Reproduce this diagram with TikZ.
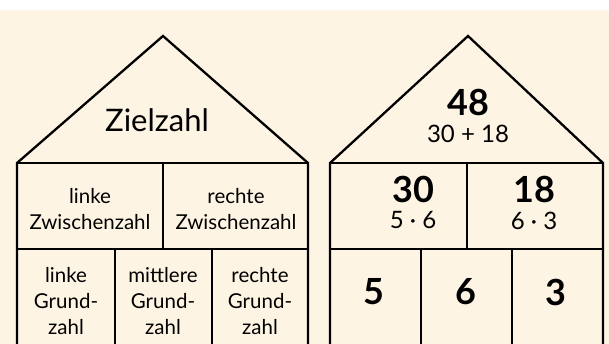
\documentclass[tikz,border=0pt]{standalone}
\usepackage{fontspec}
\setmainfont{Lato}
\usetikzlibrary{positioning}
\definecolor{paper}{HTML}{FEF4E4}

\begin{document}
\begin{tikzpicture}[x=1pt, y=-1pt,
    wall/.style={line width=2.3pt, line join=miter},
    lbl/.style={align=center, inner sep=0pt, font=\fontsize{20.5}{26}\selectfont},
    rooflbl/.style={inner sep=0pt, font=\fontsize{31}{34}\selectfont},
    bignum/.style={inner sep=0pt, font=\fontsize{36}{40}\selectfont\bfseries},
    subnum/.style={inner sep=0pt, font=\fontsize{24}{28}\selectfont}
]
\useasboundingbox (0,0) rectangle (609,344);
\fill[paper] (0,10) rectangle (609,344);

% left house: the names
\draw[wall] (17,344) -- (17,163) -- (163,36) -- (308,163) -- (308,344);
\draw[wall] (17,163) -- (308,163);
\draw[wall] (17,249) -- (308,249);
\draw[wall] (163,163) -- (163,249);
\draw[wall] (115,249) -- (115,344);
\draw[wall] (212,249) -- (212,344);
\node[rooflbl] (goal) at (157,120) {Zielzahl};
\node[lbl] (midleft) at (90,209) {linke\\Zwischenzahl};
\node[lbl] (midright) at (236,209) {rechte\\Zwischenzahl};
\node[lbl] (baseleft) at (66,301) {linke\\Grund-\\zahl};
\node[lbl] (basemid) at (163,301) {mittlere\\Grund-\\zahl};
\node[lbl] (baseright) at (260,301) {rechte\\Grund-\\zahl};

% right house: the example
\draw[wall] (330,344) -- (330,163) -- (468,36) -- (603,163) -- (603,344);
\draw[wall] (330,163) -- (603,163);
\draw[wall] (330,249) -- (603,249);
\draw[wall] (467,163) -- (467,249);
\draw[wall] (421,249) -- (421,344);
\draw[wall] (512,249) -- (512,344);
\node[bignum] (top) at (468,102) {48};
\node[subnum, below=9pt of top] (topsum) {30 + 18};
\node[bignum] (left) at (413,189) {30};
\node[subnum, below=9pt of left] (leftprod) {5 · 6};
\node[bignum] (right) at (534,189) {18};
\node[subnum, below=9pt of right] (rightprod) {6 · 3};
\node[bignum] (a) at (374,292) {5};
\node[bignum] (b) at (466,292) {6};
\node[bignum] (c) at (556,292) {3};
\end{tikzpicture}
\end{document}
